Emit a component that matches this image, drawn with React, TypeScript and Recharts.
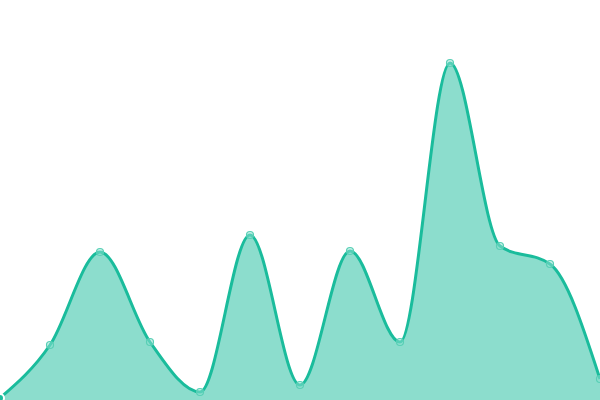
import { AreaChart, Area, XAxis, YAxis } from 'recharts'

const categories = ['1', '2', '3', '4', '5', '6', '7', '8', '9', '10', '11', '12', '13']
const values = [2, 55, 148, 58, 8, 165, 15, 149, 58, 337, 154, 136, 21]

const data = categories.map((name, i) => ({ name, value: values[i] }))

export default function App() {
  return (
    <div style={{ width: 600, height: 400 }}>
      <style>{'body { margin: 0; overflow: hidden; }'}</style>
      <AreaChart width={600} height={400} data={data} margin={{ top: 0, right: 0, bottom: 0, left: 0 }}>
        <XAxis dataKey="name" hide />
        <YAxis domain={[0, 400]} hide />
        <Area
          type="monotone"
          dataKey="value"
          stroke="#1abc9c"
          strokeWidth={3}
          fill="#1abc9c"
          fillOpacity={0.5}
          dot={{ r: 3.5, fill: '#90e2d1', stroke: '#58cfb5', strokeWidth: 1.2 }}
          isAnimationActive={false}
        />
      </AreaChart>
    </div>
  )
}
